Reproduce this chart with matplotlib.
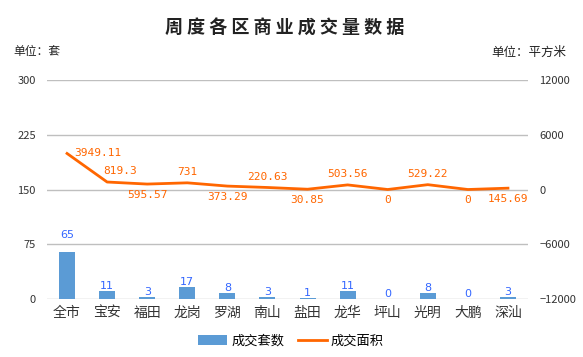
import matplotlib.pyplot as plt
import numpy as np

plt.rcParams['font.family'] = ['Noto Sans CJK SC', 'DejaVu Sans']

# data
districts = ['全市', '宝安', '福田', '龙岗', '罗湖', '南山', '盐田', '龙华', '坪山', '光明', '大鹏', '深汕']
units = [65, 11, 3, 17, 8, 3, 1, 11, 0, 8, 0, 3]
area = [3949.11, 819.3, 595.57, 731, 373.29, 220.63, 30.85, 503.56, 0, 529.22, 0, 145.69]
area_labels = ['3949.11', '819.3', '595.57', '731', '373.29', '220.63', '30.85', '503.56', '0', '529.22', '0', '145.69']
# where each area label sits relative to its point
label_side = ['right', 'above_right', 'below', 'above', 'below', 'above', 'below', 'above', 'below', 'above', 'below', 'below']

bar_color = '#5B9BD5'
line_color = '#FF6600'
grid_color = '#BFBFBF'

fig = plt.figure(figsize=(5.83, 3.57), dpi=100)
ax = fig.add_axes([47 / 583, 1 - 299 / 357, 481 / 583, 219 / 357])
ax2 = ax.twinx()

x = np.arange(len(districts))
bars = ax.bar(x, units, width=0.4, color=bar_color, label='成交套数', zorder=2)
ax.set_ylim(0, 300)
ax.set_yticks([0, 75, 150, 225, 300])
ax.set_xlim(-0.5, len(districts) - 0.5)
ax.yaxis.grid(True, color=grid_color, linewidth=1)
ax.set_axisbelow(True)
for s in ax.spines.values():
    s.set_visible(False)
ax.tick_params(axis='y', length=0, labelsize=8, colors='#333333', pad=8)
ax.tick_params(axis='x', length=0, labelsize=10, colors='#333333', pad=5)
ax.set_xticks(x)
ax.set_xticklabels(districts)

for xi, v in zip(x, units):
    off = 8 if v > 60 else 0
    ax.annotate(str(v), (xi, v), xytext=(0, off), textcoords='offset points',
                ha='center', va='bottom', fontsize=8, color='#3366FF', family='DejaVu Sans')

line, = ax2.plot(x, area, color=line_color, linewidth=2, label='成交面积', zorder=3)
ax2.set_ylim(-12000, 12000)
ax2.set_yticks([-12000, -6000, 0, 6000, 12000])
for s in ax2.spines.values():
    s.set_visible(False)
ax2.tick_params(axis='y', length=0, labelsize=8, colors='#333333', pad=8)

for xi, v, lab, side in zip(x, area, area_labels, label_side):
    kw = dict(textcoords='offset points', fontsize=8, color=line_color, family='DejaVu Sans Mono')
    if side == 'right':
        ax2.annotate(lab, (xi, v), xytext=(5, 0), ha='left', va='center', **kw)
    elif side == 'above_right':
        ax2.annotate(lab, (xi, v), xytext=(-3, 4), ha='left', va='bottom', **kw)
    elif side == 'above':
        ax2.annotate(lab, (xi, v), xytext=(0, 4), ha='center', va='bottom', **kw)
    else:
        ax2.annotate(lab, (xi, v), xytext=(0, -4), ha='center', va='top', **kw)

fig.text(285 / 583, 1 - 28 / 357, ' '.join('周度各区商业成交量数据'), ha='center', va='center',
         fontsize=13, fontweight='bold', color='#222222')
fig.text(13 / 583, 1 - 52 / 357, '单位：套', ha='left', va='center', fontsize=8.5, color='#222222')
fig.text(566 / 583, 1 - 52 / 357, '单位：平方米', ha='right', va='center', fontsize=9, color='#222222')

fig.legend([bars, line], ['成交套数', '成交面积'], loc='center', bbox_to_anchor=(291 / 583, 1 - 341 / 357),
           ncol=2, frameon=False, fontsize=9.5, handlelength=2.2, handletextpad=0.3, columnspacing=1.0)

fig.savefig('out.png', dpi=100)
